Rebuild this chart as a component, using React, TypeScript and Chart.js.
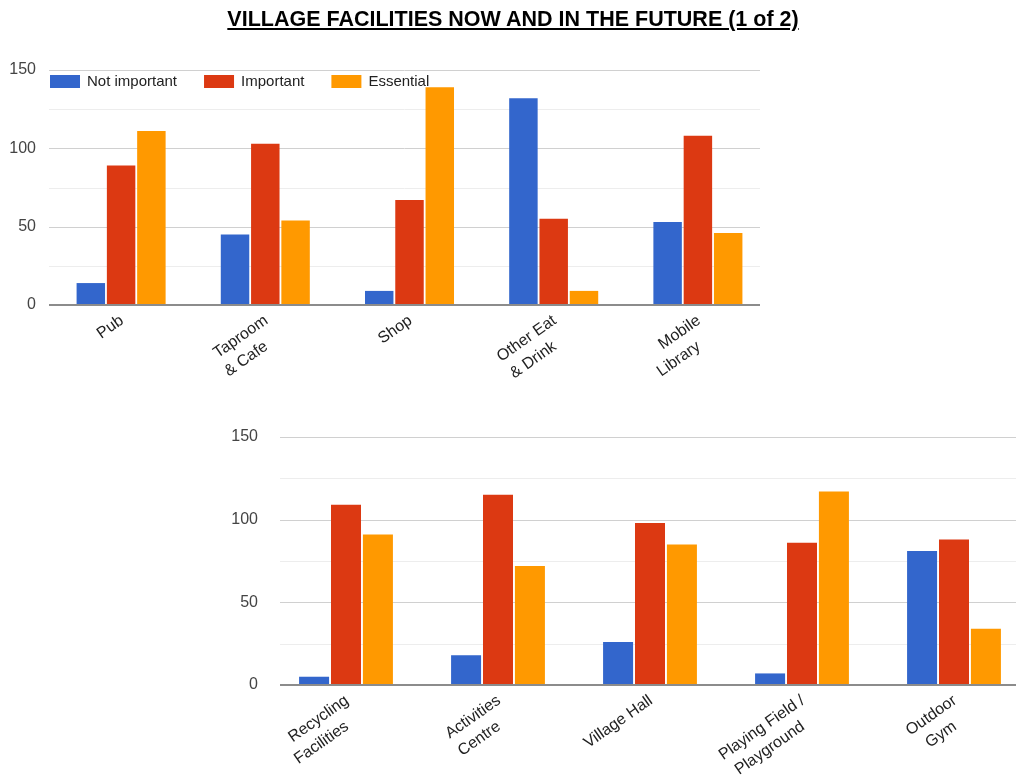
import { useEffect, useRef } from "react";
import { Chart, registerables } from "chart.js";

Chart.register(...registerables);

const FONT = 'Arial, "Liberation Sans", sans-serif';

// Series shared by both panels
const seriesNames = ["Not important", "Important", "Essential"];
const seriesColors = ["#3366cc", "#dc3912", "#ff9900"];

// Panel 1: eating, drinking and shopping
const facilitiesTop = [["Pub"], ["Taproom", "& Cafe"], ["Shop"], ["Other Eat", "& Drink"], ["Mobile", "Library"]];
const notImportantTop = [14, 45, 9, 132, 53];
const importantTop = [89, 103, 67, 55, 108];
const essentialTop = [111, 54, 139, 9, 46];

// Panel 2: community facilities
const facilitiesBottom = [["Recycling", "Facilities"], ["Activities", "Centre"], ["Village Hall"], ["Playing Field /", "Playground"], ["Outdoor", "Gym"]];
const notImportantBottom = [5, 18, 26, 7, 81];
const importantBottom = [109, 115, 98, 86, 88];
const essentialBottom = [91, 72, 85, 117, 34];

// Value axis: labelled every 50, light gridline every 25
const yMax = 150;
const yStep = 25;
const yLabelEvery = 50;

// Horizontal gridlines and the zero baseline, spanning a fixed pixel band
const bandGrid = {
  id: "bandGrid",
  beforeDatasetsDraw(chart: any, _args: any, opts: any) {
    const { ctx, scales } = chart;
    const ys = scales.y;
    ctx.save();
    ys.ticks.forEach((t: any) => {
      if (t.value === 0) return;
      const y = Math.round(ys.getPixelForValue(t.value)) + 0.5;
      ctx.strokeStyle = t.value % yLabelEvery === 0 ? "#d0d0d0" : "#ededed";
      ctx.lineWidth = 1;
      ctx.beginPath();
      ctx.moveTo(opts.from, y);
      ctx.lineTo(opts.to, y);
      ctx.stroke();
    });
    ctx.restore();
  },
  afterDatasetsDraw(chart: any, _args: any, opts: any) {
    const { ctx, scales } = chart;
    const y0 = Math.round(scales.y.getPixelForValue(0));
    ctx.save();
    ctx.strokeStyle = "#8c8c8c";
    ctx.lineWidth = 2;
    ctx.beginPath();
    ctx.moveTo(opts.from, y0);
    ctx.lineTo(opts.to, y0);
    ctx.stroke();
    ctx.restore();
  },
};

// Category labels drawn slanted, one rotated line per text row
const slantedLabels = {
  id: "slantedLabels",
  afterDraw(chart: any) {
    const { ctx, chartArea, scales } = chart;
    const xs = scales.x;
    ctx.save();
    ctx.font = `16px ${FONT}`;
    ctx.fillStyle = "#222";
    ctx.textAlign = "right";
    ctx.textBaseline = "middle";
    (chart.data.labels as any[]).forEach((lab, i) => {
      const lines = Array.isArray(lab) ? lab : [lab];
      const cx = xs.getPixelForValue(i);
      lines.forEach((line: string, j: number) => {
        ctx.save();
        ctx.translate(cx + 1, chartArea.bottom + 14 + j * 26);
        ctx.rotate((-35 * Math.PI) / 180);
        ctx.fillText(line, 0, 0);
        ctx.restore();
      });
    });
    ctx.restore();
  },
};

// Legend laid inside the top-left of the plot area
const insideLegend = {
  id: "insideLegend",
  afterDraw(chart: any, _args: any, opts: any) {
    if (!opts.show) return;
    const { ctx, chartArea } = chart;
    ctx.save();
    ctx.font = `15px ${FONT}`;
    ctx.textBaseline = "middle";
    ctx.textAlign = "left";
    let x = chartArea.left + 1;
    const top = chartArea.top + 5;
    chart.data.datasets.forEach((ds: any) => {
      ctx.fillStyle = ds.backgroundColor;
      ctx.fillRect(x, top, 30, 13);
      x += 37;
      ctx.fillStyle = "#222";
      ctx.fillText(ds.label, x, top + 7);
      x += ctx.measureText(ds.label).width + 27;
    });
    ctx.restore();
  },
};

type PanelProps = {
  labels: string[][];
  values: number[][];
  width: number;
  height: number;
  padding: { top: number; left: number; right: number; bottom: number };
  yWidth: number;
  xHeight: number;
  tickPad: number;
  gridFrom: number;
  gridTo: number;
  legend: boolean;
};

function Panel(p: PanelProps) {
  const ref = useRef<HTMLCanvasElement | null>(null);
  useEffect(() => {
    if (!ref.current) return;
    const chart = new Chart(ref.current, {
      type: "bar",
      data: {
        labels: p.labels as any,
        datasets: seriesNames.map((name, k) => ({
          label: name,
          data: p.values[k],
          backgroundColor: seriesColors[k],
          borderWidth: 0,
          categoryPercentage: 0.63,
          barPercentage: 0.94,
        })),
      },
      options: {
        animation: false,
        responsive: false,
        events: [],
        layout: { padding: p.padding },
        plugins: {
          legend: { display: false },
          tooltip: { enabled: false },
          title: { display: false },
          bandGrid: { from: p.gridFrom, to: p.gridTo },
          insideLegend: { show: p.legend },
        } as any,
        scales: {
          x: {
            grid: { display: false, drawTicks: false },
            border: { display: false },
            ticks: { display: false },
            afterFit: (s: any) => {
              s.height = p.xHeight;
            },
          },
          y: {
            min: 0,
            max: yMax,
            border: { display: false },
            grid: { display: false, drawTicks: false },
            ticks: {
              stepSize: yStep,
              autoSkip: false,
              padding: p.tickPad,
              color: "#444",
              font: { family: FONT, size: 16 },
              callback: (v: any) => (Number(v) % yLabelEvery === 0 ? String(v) : ""),
            },
            afterFit: (s: any) => {
              s.width = p.yWidth;
            },
          },
        },
      },
      plugins: [bandGrid, slantedLabels, insideLegend],
    });
    return () => chart.destroy();
  }, []);
  return (
    <canvas
      ref={ref}
      width={p.width}
      height={p.height}
      style={{ position: "absolute", left: 0, top: 0, width: p.width, height: p.height }}
    />
  );
}

export default function App() {
  return (
    <div
      style={{
        position: "absolute",
        left: 0,
        top: 0,
        width: 1016,
        height: 780,
        overflow: "hidden",
        background: "#fff",
      }}
    >
      <Panel
        labels={facilitiesTop}
        values={[notImportantTop, importantTop, essentialTop]}
        width={1016}
        height={780}
        padding={{ top: 70, left: 0, right: 246, bottom: 0 }}
        yWidth={49}
        xHeight={475}
        tickPad={13}
        gridFrom={49}
        gridTo={760}
        legend={true}
      />
      <Panel
        labels={facilitiesBottom}
        values={[notImportantBottom, importantBottom, essentialBottom]}
        width={1040}
        height={780}
        padding={{ top: 437, left: 220, right: 10, bottom: 0 }}
        yWidth={50}
        xHeight={95}
        tickPad={12}
        gridFrom={280}
        gridTo={1016}
        legend={false}
      />
      <div
        style={{
          position: "absolute",
          left: 0,
          top: 8,
          width: 1026,
          textAlign: "center",
          fontFamily: FONT,
          fontWeight: "bold",
          fontSize: 21.5,
          lineHeight: "22px",
          textDecoration: "underline",
          color: "#000",
          whiteSpace: "nowrap",
        }}
      >
        VILLAGE FACILITIES NOW AND IN THE FUTURE (1 of 2)
      </div>
    </div>
  );
}
